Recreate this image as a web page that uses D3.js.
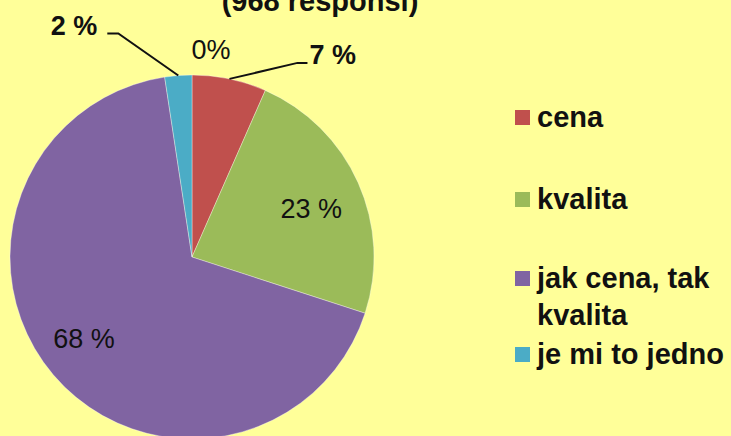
<!DOCTYPE html>
<html>
<head>
<meta charset="utf-8" />
<title>cena a kvalita</title>
<style>
body {
	margin: 0;
	background: #ffff99;
}

text {
	font-family: "Liberation Sans", Arial, sans-serif;
	fill: #111;
}
</style>
</head>
<body>
	<div id="chart"></div>
	<script src="https://cdnjs.cloudflare.com/ajax/libs/d3/7.8.5/d3.min.js"></script>
	<script>
		// data (percent of responses)
		var categories = ['cena', 'kvalita', 'jak cena, tak kvalita', 'je mi to jedno', ''];
		var values = [6.6, 23.4, 67.6, 2.4, 0];
		var valueLabels = ['7 %', '23 %', '68 %', '2 %', '0%'];
		var legendItems = ['cena', 'kvalita', 'jak cena, tak kvalita', 'je mi to jedno'];
		var title = '(968 responsí)';

		(function(d3) {
			'use strict';

			var width = 731;
			var height = 436;
			var radius = 182;
			var cx = 192, cy = 257;

			var color = d3.scaleOrdinal()
				.domain(categories)
				.range(['#c0504d', '#9bbb59', '#8064a2', '#4bacc6', '#f79646']);

			var svg = d3.select('#chart').append('svg')
				.attr('width', width)
				.attr('height', height);

			svg.append('rect').attr('width', width).attr('height', height)
				.attr('fill', '#ffff99');

			// title runs off the top edge in the original too
			svg.append('text')
				.attr('x', 320)
				.attr('y', 11)
				.attr('text-anchor', 'middle')
				.style('font-weight', 'bold')
				.style('font-size', '29px')
				.text(title);

			var g = svg.append('g')
				.attr('transform', 'translate(' + cx + ',' + cy + ')');

			var pie = d3.pie().value(function(d) { return d; }).sort(null);
			var arcs = pie(values);

			var arc = d3.arc().innerRadius(0).outerRadius(radius);

			g.selectAll('path').data(arcs.filter(function(d) { return d.value > 0; }))
				.enter().append('path')
				.attr('d', arc)
				.attr('fill', function(d) { return color(categories[d.index]); })
				.attr('stroke', 'rgba(255,255,255,0.35)')
				.attr('stroke-width', 1);

			// label layout: inside labels sit on a radius, outside ones get a leader
			var layout = [
				{ type: 'out', elbow: [68, -16], tail: 10, bold: true },
				{ type: 'in', r: 0.70, dx: 3, dy: 4 },
				{ type: 'in', r: 0.75, dx: -4, dy: -6 },
				{ type: 'out', elbow: [-60, -42], tail: -11, bold: true },
				{ type: 'top', dx: 19, dy: -16 }
			];

			function polar(a, r) {
				return [Math.sin(a) * r, -Math.cos(a) * r];
			}

			arcs.forEach(function(d, i) {
				var L = layout[i];
				var mid = (d.startAngle + d.endAngle) / 2;
				if (L.type === 'in') {
					var p = polar(mid, radius * L.r);
					g.append('text')
						.attr('x', p[0] + L.dx)
						.attr('y', p[1] + L.dy)
						.attr('text-anchor', 'middle')
						.attr('dominant-baseline', 'central')
						.style('font-size', '27px')
						.text(valueLabels[i]);
				} else if (L.type === 'out') {
					var e = polar(mid, radius);
					var b = [e[0] + L.elbow[0], e[1] + L.elbow[1]];
					var t = [b[0] + L.tail, b[1]];
					g.append('path')
						.attr('d', d3.line()([e, b, t]))
						.attr('fill', 'none')
						.attr('stroke', '#111')
						.attr('stroke-width', 2);
					g.append('text')
						.attr('x', t[0] + (L.tail > 0 ? 2 : -10))
						.attr('y', t[1] + 1)
						.attr('text-anchor', L.tail > 0 ? 'start' : 'end')
						.style('font-weight', L.bold ? 'bold' : 'normal')
						.style('font-size', '27px')
						.text(valueLabels[i]);
				} else {
					var q = polar(d.startAngle, radius);
					g.append('text')
						.attr('x', q[0] + L.dx)
						.attr('y', q[1] + L.dy)
						.attr('text-anchor', 'middle')
						.style('font-size', '27px')
						.text(valueLabels[i]);
				}
			});

			// legend
			var legendRectSize = 15;
			var rowBase = [127, 209, 288, 364];
			var legend = svg.selectAll('.legend').data(legendItems)
				.enter().append('g')
				.attr('class', 'legend')
				.attr('transform', function(d, i) {
					return 'translate(515,' + rowBase[i] + ')';
				});

			legend.append('rect')
				.attr('y', -legendRectSize - 2)
				.attr('width', legendRectSize)
				.attr('height', legendRectSize)
				.attr('fill', function(d) { return color(d); });

			legend.append('text')
				.attr('x', 22)
				.style('font-weight', 'bold')
				.style('font-size', '29px')
				.each(function(d) {
					var t = d3.select(this);
					var parts = d === 'jak cena, tak kvalita' ? ['jak cena, tak', 'kvalita'] : [d];
					parts.forEach(function(p, k) {
						t.append('tspan').attr('x', 22).attr('dy', k ? 37 : 0).text(p);
					});
				});

		})(window.d3);
	</script>
</body>
</html>
